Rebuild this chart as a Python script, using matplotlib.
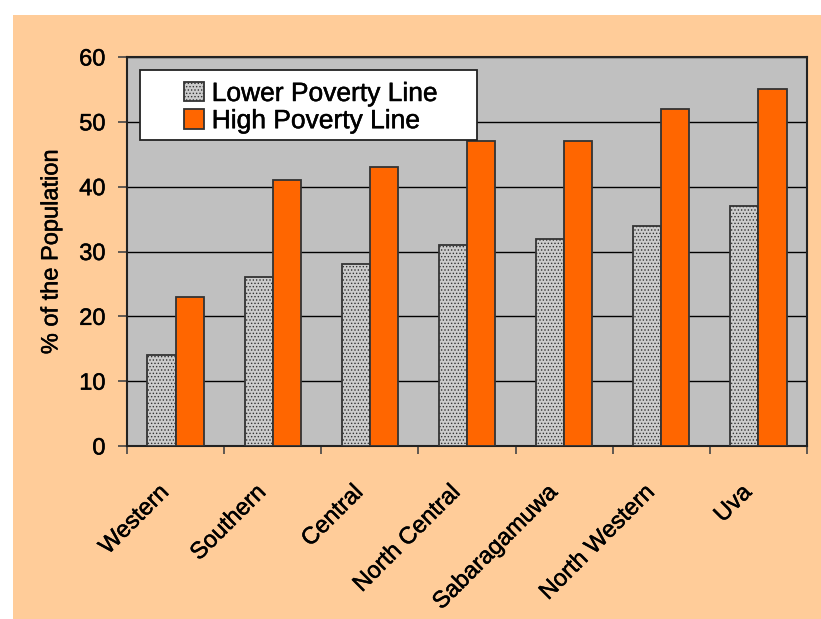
import matplotlib
matplotlib.use('Agg')
import matplotlib.pyplot as plt
import matplotlib.patheffects as pe
import matplotlib.transforms as mtransforms
import numpy as np

# Poverty headcount by province, % of the population
provinces = ['Western', 'Southern', 'Central', 'North Central',
             'Sabaragamuwa', 'North Western', 'Uva']
lower_line = [14, 26, 28, 31, 32, 34, 37]
high_line = [23, 41, 43, 47, 47, 52, 55]

plt.rcParams['font.family'] = ['Liberation Sans', 'DejaVu Sans']
plt.rcParams['hatch.color'] = '#aaaaaa'
plt.rcParams['hatch.linewidth'] = 0.6

# slightly heavier strokes for all text
heavy = [pe.withStroke(linewidth=0.35, foreground='black')]

W, H = 821, 619
fig = plt.figure(figsize=(W / 100, H / 100), dpi=100, facecolor='white')
# peach panel behind the chart
fig.patches.append(plt.Rectangle((13 / W, 0), 1 - 13 / W, 1 - 15 / H,
                                 transform=fig.transFigure, facecolor='#FFCC99',
                                 edgecolor='none', zorder=-10))

ax = fig.add_axes([127 / W, 1 - 446 / H, 680 / W, 389 / H])
ax.set_facecolor('#C0C0C0')

x = np.arange(len(provinces))
w = 0.29
ax.bar(x - w / 2, lower_line, w, color='#CCCCCC', hatch='.....',
       edgecolor='#333333', linewidth=1.3, label='Lower Poverty Line', zorder=3)
ax.bar(x + w / 2, high_line, w, color='#FF6600',
       edgecolor='#333333', linewidth=1.3, label='High Poverty Line', zorder=3)

ax.set_xlim(-0.5, len(provinces) - 0.5)
ax.set_ylim(0, 60)
ax.set_yticks(range(0, 61, 10))
ax.yaxis.grid(True, color='black', linewidth=1.0, zorder=1)
ax.set_axisbelow(True)

# ticks between categories, labels centered under groups
ax.set_xticks(np.arange(-0.5, len(provinces)), minor=False)
ax.set_xticklabels([])
ax.set_xticks(x, minor=True)
ax.set_xticklabels(provinces, minor=True, rotation=45, ha='right', va='center',
                   rotation_mode='anchor', fontsize=17)
ax.tick_params(axis='x', which='minor', length=0, pad=31)
ax.tick_params(axis='x', which='major', length=6, width=1.2, color='#444444')
ax.tick_params(axis='y', length=6.5, width=1.2, color='#444444', labelsize=17, pad=9)

# nudge rotated category labels a little to the left
shift = mtransforms.ScaledTranslation(-10 / 100, 0, fig.dpi_scale_trans)
for t in ax.get_xticklabels(minor=True):
    t.set_transform(t.get_transform() + shift)

for side in ['top', 'right', 'left', 'bottom']:
    ax.spines[side].set_color('#222222')
    ax.spines[side].set_linewidth(1.5)

ax.set_ylabel('% of the Population', fontsize=17, labelpad=12)

for t in ax.get_xticklabels(minor=True) + ax.get_yticklabels() + [ax.yaxis.label]:
    t.set_path_effects(heavy)

# legend box, content centered inside a wider white frame
ax.add_patch(plt.Rectangle((140 / W, 1 - 140 / H), 337 / W, 70 / H,
                           transform=fig.transFigure, facecolor='white',
                           edgecolor='#222222', linewidth=1.3, zorder=4,
                           clip_on=False))
leg = ax.legend(loc='upper left', bbox_to_anchor=((184 - 127) / 680, 1 - (82 - 57) / 389),
                fontsize=19, frameon=False, borderpad=0,
                handlelength=0.75, handleheight=0.75,
                handletextpad=0.3, labelspacing=0.12, borderaxespad=0)
leg.set_zorder(5)
for t in leg.get_texts():
    t.set_path_effects(heavy)

fig.savefig('out.png', dpi=100, facecolor=fig.get_facecolor())
